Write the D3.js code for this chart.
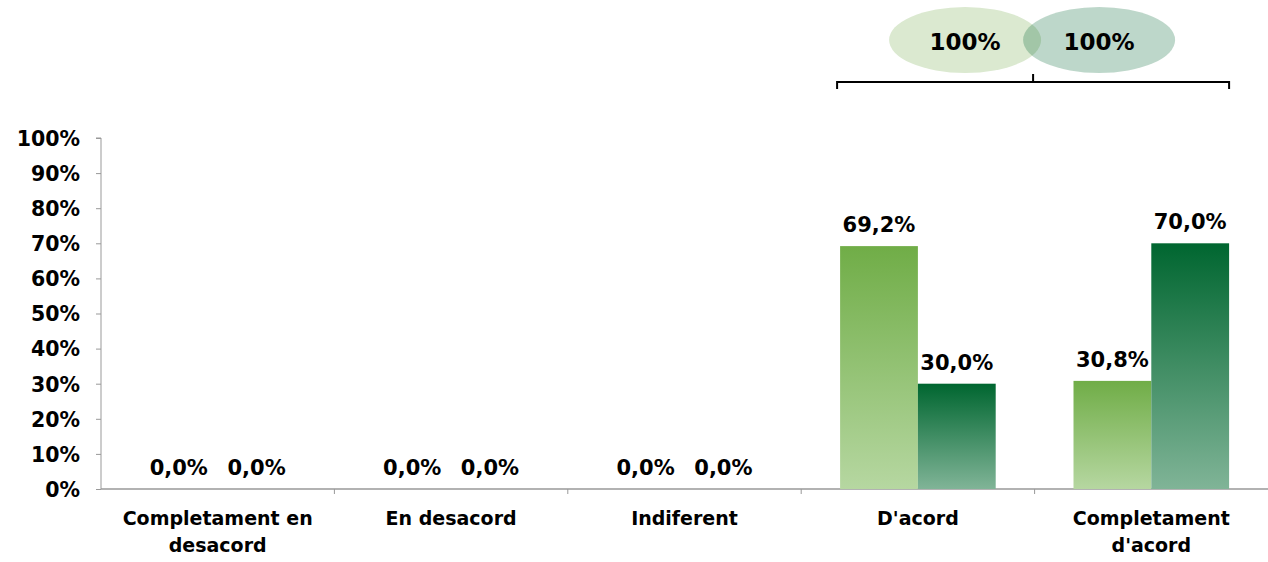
<!DOCTYPE html>
<html>
<head>
<meta charset="utf-8">
<script src="https://cdn.jsdelivr.net/npm/d3@7"></script>
<style>
  body { margin: 0; background: #fff; }
  text { font-family: "DejaVu Sans", Verdana, sans-serif; font-weight: bold; fill: #000; }
</style>
</head>
<body>
<div id="chart"></div>
<script>
// chart data
var categories = ['Completament en desacord', 'En desacord', 'Indiferent', "D'acord", "Completament d'acord"]
var seriesA = [0.0, 0.0, 0.0, 69.2, 30.8]
var seriesB = [0.0, 0.0, 0.0, 30.0, 70.0]
var yTicks = [0, 10, 20, 30, 40, 50, 60, 70, 80, 90, 100]
var totals = ['100%', '100%']

var width = 1268, height = 562
var margin = { top: 138, right: 0, bottom: 73, left: 101 }

var svg = d3.select('#chart').append('svg')
    .attr('width', width)
    .attr('height', height)

var defs = svg.append('defs')
function gradient(id, top, bottom) {
    var g = defs.append('linearGradient').attr('id', id)
        .attr('x1', 0).attr('y1', 0).attr('x2', 0).attr('y2', 1)
    g.append('stop').attr('offset', '0%').attr('stop-color', top)
    g.append('stop').attr('offset', '100%').attr('stop-color', bottom)
}
gradient('gradA', '#70ad47', '#b6d7a1')
gradient('gradB', '#006630', '#80b497')

var x = d3.scaleBand()
    .domain(categories)
    .range([margin.left, width - margin.right])

var y = d3.scaleLinear()
    .domain([0, 100])
    .range([height - margin.bottom, margin.top])

var inner = d3.scaleBand()
    .domain(['a', 'b'])
    .range([0, x.bandwidth()])
    .paddingOuter(0.5)
    .paddingInner(0)

// y axis
var yAxis = svg.append('g')
    .attr('transform', `translate(${margin.left},0)`)
    .call(d3.axisLeft(y).tickValues(yTicks).tickFormat(d => d + '%').tickSize(5).tickPadding(16))
yAxis.select('.domain').attr('stroke', '#999').attr('d', `M-5,${y(100)}H0V${y(0)}`)
yAxis.selectAll('.tick line').attr('stroke', '#999')
yAxis.selectAll('.tick text').style('font-size', '20.5px').attr('dy', '0.36em')

// x axis line and boundary ticks
var x0 = y(0)
svg.append('line')
    .attr('x1', margin.left).attr('x2', width)
    .attr('y1', x0).attr('y2', x0)
    .attr('stroke', '#999').attr('stroke-width', 1.5)
svg.selectAll('.xtick')
    .data(categories.slice(1))
    .enter()
    .append('line')
    .attr('x1', d => x(d)).attr('x2', d => x(d))
    .attr('y1', x0).attr('y2', x0 + 5)
    .attr('stroke', '#999')

// category labels
var catLabels = svg.selectAll('.cat')
    .data(categories)
    .enter()
    .append('text')
    .attr('text-anchor', 'middle')
    .style('font-size', '19px')
var wrap = { 'Completament en desacord': ['Completament en', 'desacord'], "Completament d'acord": ['Completament', "d'acord"] }
catLabels.each(function (d) {
    var lines = wrap[d] || [d]
    var t = d3.select(this)
    lines.forEach(function (l, i) {
        t.append('tspan')
            .attr('x', x(d) + x.bandwidth() / 2)
            .attr('y', 525 + i * 27)
            .text(l)
    })
})

// bars
var rows = categories.map((c, i) => ({ cat: c, a: seriesA[i], b: seriesB[i] }))
var groups = svg.selectAll('.grp')
    .data(rows)
    .enter()
    .append('g')
    .attr('transform', d => `translate(${x(d.cat)},0)`)

;[['a', 'url(#gradA)'], ['b', 'url(#gradB)']].forEach(function (s) {
    var key = s[0]
    groups.filter(d => d[key] > 0)
        .append('rect')
        .attr('x', inner(key))
        .attr('width', inner.bandwidth())
        .attr('y', d => y(d[key]))
        .attr('height', d => y(0) - y(d[key]))
        .style('fill', s[1])
    groups.append('text')
        .attr('x', inner(key) + inner.bandwidth() / 2)
        .attr('y', d => y(d[key]) - 14)
        .attr('text-anchor', 'middle')
        .style('font-size', '21px')
        .text(d => d[key].toFixed(1).replace('.', ',') + '%')
})

// bracket over the agreeing categories
var bx1 = x(categories[3]) + inner('a') - 3
var bx2 = x(categories[4]) + inner('b') + inner.bandwidth()
var bmid = (bx1 + bx2) / 2
svg.append('path')
    .attr('d', `M${bx1},89V82H${bx2}V89M${bmid},82V74`)
    .attr('fill', 'none')
    .attr('stroke', '#000')
    .attr('stroke-width', 2)

// total ellipses
var ellipses = [
    { cx: bmid - 68, fill: '#dbe9d0', opacity: 1, label: totals[0] },
    { cx: bmid + 66, fill: '#006432', opacity: 0.26, label: totals[1] }
]
svg.selectAll('.ell')
    .data(ellipses)
    .enter()
    .append('ellipse')
    .attr('cx', d => d.cx).attr('cy', 40)
    .attr('rx', 76).attr('ry', 33)
    .style('fill', d => d.fill)
    .style('opacity', d => d.opacity)
svg.selectAll('.etxt')
    .data(ellipses)
    .enter()
    .append('text')
    .attr('x', d => d.cx).attr('y', 50)
    .attr('text-anchor', 'middle')
    .style('font-size', '23px')
    .text(d => d.label)
</script>
</body>
</html>
